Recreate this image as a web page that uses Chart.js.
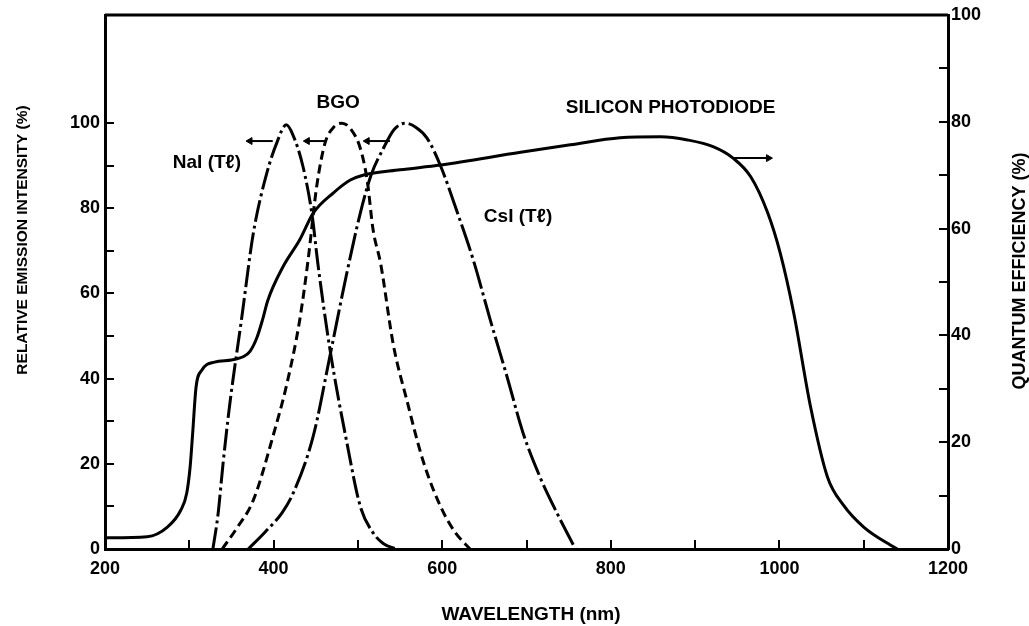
<!DOCTYPE html>
<html>
<head>
<meta charset="utf-8">
<script src="https://cdn.jsdelivr.net/npm/chart.js@4.4.0/dist/chart.umd.min.js"></script>
<style>
  html, body { margin: 0; padding: 0; background: #fff; }
</style>
</head>
<body>
<canvas id="spectrumChart" width="1029" height="626"></canvas>
<script>
// silicon photodiode quantum efficiency (%), right axis
const siliconWavelength = [200, 250, 274, 290, 297, 301, 304, 308, 315, 330, 350, 365, 372, 380, 387, 393, 411, 431, 447, 471, 491, 506, 550, 598, 693, 752, 811, 859, 891, 922, 945, 966, 986, 1001, 1017, 1037, 1057, 1076, 1100, 1132, 1140]
const siliconQE = [2.1, 2.3, 4.1, 7.3, 10.5, 15.4, 21.7, 30.3, 33.5, 35, 35.4, 36.1, 37.0, 39.5, 43, 46.5, 52.8, 57.9, 62.9, 66.7, 69.1, 70, 71, 71.9, 74.3, 75.7, 77, 77.2, 76.6, 75.3, 73.2, 69.7, 63, 55.4, 44.2, 26.6, 13.5, 8.2, 4.1, 0.7, 0]

// relative emission intensity (%), left axis
const naiWavelength = [328, 334, 340, 348, 362, 376, 392, 404, 415, 423, 435, 446, 452, 467, 487, 503, 518, 530, 545]
const naiIntensity = [0, 8, 20, 34, 54, 74.2, 88.3, 95.5, 99.6, 97.2, 89.7, 78, 67.8, 46.7, 24.9, 9.9, 3.8, 1.3, 0]

const bgoWavelength = [339, 355, 376, 400, 416, 431, 441, 451, 461, 471, 481, 492, 503, 511, 518, 527, 542, 558, 577, 598, 615, 633]
const bgoIntensity = [0, 4.5, 11.5, 27, 39, 53.8, 68, 85, 95.3, 99, 100, 98.5, 94, 86.6, 75, 67, 48, 35, 20.9, 10, 4, 0]

const csiWavelength = [370, 390, 410, 423, 447, 467, 486, 503, 516, 530, 543, 556, 569, 582, 598, 618, 637, 657, 677, 696, 716, 736, 758]
const csiIntensity = [0, 4, 8.5, 13, 26.5, 45.5, 64, 79, 88, 94, 98.5, 100, 99, 96.5, 90, 79, 67.8, 53.8, 40.4, 27.2, 16.9, 8.5, 0]

// arrows showing which axis each curve belongs to
const naiArrowWavelength = [399, 372]
const bgoArrowWavelength = [463, 440]
const csiArrowWavelength = [538, 511]
const emissionArrowLevel = 95.8
const siliconArrowWavelength = [945, 987]
const siliconArrowLevel = 73.2

// ticks
const xTicks = [200, 300, 400, 500, 600, 700, 800, 900, 1000, 1100, 1200]
const xTickLabels = [200, 400, 600, 800, 1000, 1200]
const leftTicks = [0, 10, 20, 30, 40, 50, 60, 70, 80, 90, 100]
const leftTickLabels = [0, 20, 40, 60, 80, 100]
const rightTicks = [0, 10, 20, 30, 40, 50, 60, 70, 80, 90, 100]
const rightTickLabels = [0, 20, 40, 60, 80, 100]

const curveLabels = [
    { text: 'NaI (T\u2113)', wl: 321, val: 90.8, axis: 'y' },
    { text: 'BGO', wl: 476.6, val: 104.9, axis: 'y' },
    { text: 'CsI (T\u2113)', wl: 690, val: 78, axis: 'y' },
    { text: 'SILICON PHOTODIODE', wl: 871, val: 103.5, axis: 'y' }
]

const FONT = "'Liberation Sans', Arial, sans-serif"
Chart.defaults.font.family = FONT
Chart.defaults.color = '#000'

function points(xs, ys) {
    return xs.map((x, i) => ({ x: x, y: ys[i] }))
}

function flat(xs, level) {
    return xs.map(x => ({ x: x, y: level }))
}

function curve(data, dash, axis) {
    return {
        data: data,
        yAxisID: axis,
        borderColor: '#000',
        borderWidth: 3,
        borderDash: dash,
        pointRadius: 0,
        fill: false,
        cubicInterpolationMode: 'monotone'
    }
}

function arrow(data, axis, rotation) {
    return {
        data: data,
        yAxisID: axis,
        borderColor: '#000',
        backgroundColor: '#000',
        borderWidth: 2,
        pointStyle: 'triangle',
        pointRadius: [0, 4],
        pointBorderWidth: 1,
        pointRotation: rotation,
        fill: false
    }
}

const textPlugin = {
    id: 'textPlugin',
    afterDraw(chart) {
        const { ctx, chartArea, scales } = chart
        ctx.save()
        // top frame line
        ctx.strokeStyle = '#000'
        ctx.lineWidth = 3
        ctx.beginPath()
        ctx.moveTo(chartArea.left, chartArea.top)
        ctx.lineTo(chartArea.right, chartArea.top)
        ctx.stroke()

        ctx.fillStyle = '#000'
        ctx.textAlign = 'center'
        ctx.textBaseline = 'middle'
        ctx.font = 'bold 19px ' + FONT
        curveLabels.forEach(l => {
            ctx.fillText(l.text, scales.x.getPixelForValue(l.wl), scales[l.axis].getPixelForValue(l.val))
        })

        // axis titles
        ctx.fillText('WAVELENGTH (nm)', 531, 615)

        ctx.font = 'bold 15.5px ' + FONT
        ctx.translate(23, 240)
        ctx.rotate(-Math.PI / 2)
        ctx.fillText('RELATIVE EMISSION INTENSITY (%)', 0, 0)
        ctx.restore()

        ctx.save()
        ctx.fillStyle = '#000'
        ctx.textAlign = 'center'
        ctx.textBaseline = 'middle'
        ctx.font = 'bold 18px ' + FONT
        ctx.translate(1020, 271)
        ctx.rotate(-Math.PI / 2)
        ctx.fillText('QUANTUM EFFICIENCY (%)', 0, 0)
        ctx.restore()
    }
}

const tickFont = { size: 18, weight: 'bold' }
const axisGrid = { drawOnChartArea: false, tickLength: -9, color: '#000', lineWidth: 2 }
const axisBorder = { color: '#000', width: 3 }

function fixWidth(w) {
    return s => {
        s.width = w
        s.paddingTop = 0
        s.paddingBottom = 0
    }
}

new Chart(document.getElementById('spectrumChart'), {
    type: 'line',
    data: {
        datasets: [
            curve(points(siliconWavelength, siliconQE), [], 'y2'),
            curve(points(naiWavelength, naiIntensity), [22, 4, 3, 4], 'y'),
            curve(points(bgoWavelength, bgoIntensity), [9, 5], 'y'),
            curve(points(csiWavelength, csiIntensity), [28, 4, 3, 4], 'y'),
            arrow(flat(naiArrowWavelength, emissionArrowLevel), 'y', -90),
            arrow(flat(bgoArrowWavelength, emissionArrowLevel), 'y', -90),
            arrow(flat(csiArrowWavelength, emissionArrowLevel), 'y', -90),
            arrow(flat(siliconArrowWavelength, siliconArrowLevel), 'y2', 90)
        ]
    },
    options: {
        responsive: false,
        animation: false,
        events: [],
        layout: { padding: { top: 15, left: 0, right: 0, bottom: 0 } },
        plugins: {
            legend: { display: false },
            tooltip: { enabled: false }
        },
        scales: {
            x: {
                type: 'linear',
                min: 200,
                max: 1200,
                afterBuildTicks: s => { s.ticks = xTicks.map(v => ({ value: v })) },
                afterFit: s => {
                    s.height = 77
                    s.paddingLeft = 0
                    s.paddingRight = 0
                },
                ticks: {
                    autoSkip: false,
                    maxRotation: 0,
                    padding: 18,
                    font: tickFont,
                    callback: v => xTickLabels.includes(v) ? v : ''
                },
                grid: axisGrid,
                border: axisBorder
            },
            y: {
                position: 'left',
                min: 0,
                max: 125.4,
                afterBuildTicks: s => { s.ticks = leftTicks.map(v => ({ value: v })) },
                afterFit: fixWidth(105),
                ticks: {
                    autoSkip: false,
                    padding: 14,
                    font: tickFont,
                    callback: v => leftTickLabels.includes(v) ? v : ''
                },
                grid: axisGrid,
                border: axisBorder
            },
            y2: {
                position: 'right',
                min: 0,
                max: 100,
                afterBuildTicks: s => { s.ticks = rightTicks.map(v => ({ value: v })) },
                afterFit: fixWidth(81),
                ticks: {
                    autoSkip: false,
                    padding: 12,
                    font: tickFont,
                    callback: v => rightTickLabels.includes(v) ? v : ''
                },
                grid: axisGrid,
                border: axisBorder
            }
        }
    },
    plugins: [textPlugin]
})
</script>
</body>
</html>
